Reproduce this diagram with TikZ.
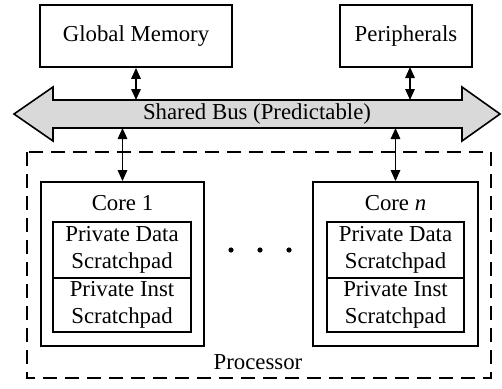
\documentclass[tikz,border=0pt]{standalone}
\usepackage{fontspec}
\setmainfont{Liberation Serif}
\usetikzlibrary{arrows.meta}
\begin{document}
\begin{tikzpicture}[x=1pt,y=-1pt,
  font=\fontsize{22.8}{26.5}\selectfont,
  box/.style={draw,line width=1.8pt,inner sep=0pt,align=center},
  cell/.style={draw,line width=1.8pt,inner sep=0pt,align=center,minimum width=138pt},
  dbl/.style={line width=1.5pt,{Triangle[length=11pt,width=9.5pt]}-{Triangle[length=11pt,width=9.5pt]}},
]
\useasboundingbox (0,0) rectangle (502,388);
% top boxes
\node[box,minimum width=192pt,minimum height=62pt] (gm) at (136,36) {Global Memory};
\node[box,minimum width=132pt,minimum height=62pt] (per) at (406,36) {Peripherals};
% bus
\draw[line width=1.6pt,fill=gray!30] (14,114) -- (53,87) -- (53,100) -- (462,100) -- (462,87) -- (500,114) -- (462,141) -- (462,128) -- (53,128) -- (53,141) -- cycle;
\node (bus) at (257,114) {Shared Bus (Predictable)};
\coordinate (bt1) at (136,100);
\coordinate (bt2) at (410,100);
\coordinate (bb1) at (122.5,128);
\coordinate (bb2) at (395.5,128);
\coordinate (pt2) at (410,67);
% processor
\draw[line width=1.5pt,dash pattern=on 14pt off 8pt] (27,152) rectangle (491,378);
\node (proc) at (258,362) {Processor};
% cores
\node[box,minimum width=163pt,minimum height=164pt] (c1) at (122.5,264) {};
\node[box,minimum width=165pt,minimum height=164pt] (cn) at (395.5,264) {};
\node (c1l) at (122.5,203) {Core 1};
\node (cnl) at (395.5,203) {Core \textit{n}};
\node[cell,minimum height=56pt] (d1) at (122,250) {Private Data\\Scratchpad};
\node[cell,minimum height=54pt] (i1) at (122,305) {Private Inst\\Scratchpad};
\node[cell,minimum height=56pt,minimum width=137pt] (dn) at (395.5,250) {Private Data\\Scratchpad};
\node[cell,minimum height=54pt,minimum width=137pt] (in) at (395.5,305) {Private Inst\\Scratchpad};
% dots
\foreach \x [count=\i] in {231,260,289} \fill (\x,250) circle (2.6pt) coordinate (dot\i);
% connectors
\draw[dbl] (gm.south) -- (bt1);
\draw[dbl] (pt2) -- (bt2);
\draw[dbl] (bb1) -- (c1.north);
\draw[dbl] (bb2) -- (cn.north);
\end{tikzpicture}
\end{document}
